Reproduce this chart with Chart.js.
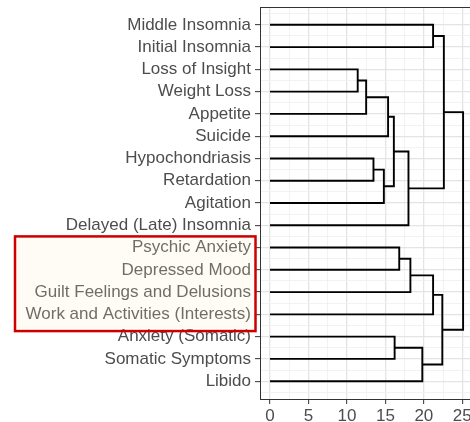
<!DOCTYPE html>
<html>
<head>
<meta charset="utf-8">
<script src="https://cdn.jsdelivr.net/npm/chart.js@4/dist/chart.umd.min.js"></script>
<style>
  html, body { margin: 0; padding: 0; overflow: hidden; background: #fff; }
  canvas { display: block; }
</style>
</head>
<body>
<canvas id="myChart-dendro" width="490" height="422"></canvas>
<script>
// Rótulos (ordem de cima para baixo)
const labels = [
  'Middle Insomnia', 'Initial Insomnia', 'Loss of Insight', 'Weight Loss',
  'Appetite', 'Suicide', 'Hypochondriasis', 'Retardation', 'Agitation',
  'Delayed (Late) Insomnia', 'Psychic Anxiety', 'Depressed Mood',
  'Guilt Feelings and Delusions', 'Work and Activities (Interests)',
  'Anxiety (Somatic)', 'Somatic Symptoms', 'Libido'
];

// estilo hclust: negativo = folha (-(i+1)), positivo = fusão anterior (1..n)
const mergeA = [-3, 1, -7, 3, 2, 5, -15, -11, 6, 8, 7, -1, 10, 13, 12, 15];
const mergeB = [-4, -5, -8, -9, -6, 4, -16, -12, -10, -13, -17, -2, -14, 11, 9, 14];
const mergeHeight = [11.4, 12.5, 13.45, 14.8, 15.35, 16.1, 16.2, 16.8, 18.0, 18.25,
                     19.8, 21.2, 21.2, 22.4, 22.6, 25.1];

const highlightRows = [10, 13]; // Psychic Anxiety .. Work and Activities

// posição e altura de cada nó
const mergePos = [];
function nodePos(id) { return id < 0 ? (-id - 1) : mergePos[id - 1]; }
function nodeHeight(id) { return id < 0 ? 0 : mergeHeight[id - 1]; }

const datasets = [];
for (let i = 0; i < mergeHeight.length; i++) {
  const pa = nodePos(mergeA[i]);
  const pb = nodePos(mergeB[i]);
  mergePos.push((pa + pb) / 2);
  datasets.push({
    data: [
      { x: nodeHeight(mergeA[i]), y: pa },
      { x: mergeHeight[i], y: pa },
      { x: mergeHeight[i], y: pb },
      { x: nodeHeight(mergeB[i]), y: pb }
    ],
    showLine: true,
    borderColor: '#000',
    borderWidth: 1.9,
    pointRadius: 0,
    fill: false
  });
}

const fontFamily = "'Liberation Sans', Arial, Helvetica, sans-serif";

// moldura do painel + caixa de destaque
const extras = {
  id: 'extras',
  afterDraw(chart) {
    const ctx = chart.ctx;
    const a = chart.chartArea;
    const y = chart.scales.y;
    ctx.save();
    ctx.strokeStyle = '#333';
    ctx.lineWidth = 1;
    ctx.beginPath();
    ctx.moveTo(a.left, a.top + 0.5);
    ctx.lineTo(a.right, a.top + 0.5);
    ctx.stroke();

    const top = y.getPixelForValue(highlightRows[0] - 0.5);
    const bottom = y.getPixelForValue(highlightRows[1] + 0.75);
    ctx.fillStyle = 'rgba(250, 240, 200, 0.2)';
    ctx.fillRect(15, top, 240.5, bottom - top);
    ctx.strokeStyle = '#cc0000';
    ctx.lineWidth = 2.5;
    ctx.strokeRect(15, top, 240.5, bottom - top);
    ctx.restore();
  }
};

const ctx = document.getElementById('myChart-dendro').getContext('2d');
new Chart(ctx, {
  type: 'scatter',
  data: { datasets: datasets },
  plugins: [extras],
  options: {
    responsive: false,
    animation: false,
    layout: { padding: { left: 0, top: 7, right: 14.6, bottom: 0 } },
    plugins: {
      legend: { display: false },
      tooltip: { enabled: false }
    },
    scales: {
      x: {
        type: 'linear',
        min: -1.3,
        max: 26.7,
        afterBuildTicks(scale) {
          const t = [];
          for (let v = 0; v <= 25; v += 2.5) t.push({ value: v });
          scale.ticks = t;
        },
        afterFit(scale) {
          scale.height = 23;
          scale.paddingLeft = 0;
          scale.paddingRight = 0;
        },
        border: { color: '#333', width: 1 },
        grid: {
          color: (c) => (c.tick && c.tick.value % 5 === 0) ? '#e4e4e4' : '#efefef',
          lineWidth: (c) => (c.tick && c.tick.value % 5 === 0) ? 1.3 : 0.8,
          tickColor: (c) => (c.tick && c.tick.value % 5 === 0) ? '#333' : 'rgba(0,0,0,0)',
          tickLength: 5,
          tickWidth: 1
        },
        ticks: {
          autoSkip: false,
          maxRotation: 0,
          padding: 2,
          color: '#4d4d4d',
          font: { size: 17, family: fontFamily },
          callback: (v) => v % 5 === 0 ? String(v) : ''
        }
      },
      y: {
        type: 'linear',
        reverse: true,
        min: -0.8,
        max: 16.8,
        afterBuildTicks(scale) {
          const t = [];
          for (let v = -0.5; v <= 16.5; v += 0.5) t.push({ value: v });
          scale.ticks = t;
        },
        afterFit(scale) {
          scale.width = 260;
          scale.paddingTop = 0;
          scale.paddingBottom = 0;
        },
        border: { color: '#333', width: 1 },
        grid: {
          color: (c) => (c.tick && Number.isInteger(c.tick.value)) ? '#e4e4e4' : '#efefef',
          lineWidth: (c) => (c.tick && Number.isInteger(c.tick.value)) ? 1.3 : 0.8,
          tickColor: (c) => (c.tick && Number.isInteger(c.tick.value)) ? '#333' : 'rgba(0,0,0,0)',
          tickLength: 5,
          tickWidth: 1
        },
        ticks: {
          autoSkip: false,
          padding: 4,
          color: '#4d4d4d',
          font: { size: 17, family: fontFamily },
          callback: (v) => Number.isInteger(v) ? labels[v] : ''
        }
      }
    }
  }
});
</script>
</body>
</html>
